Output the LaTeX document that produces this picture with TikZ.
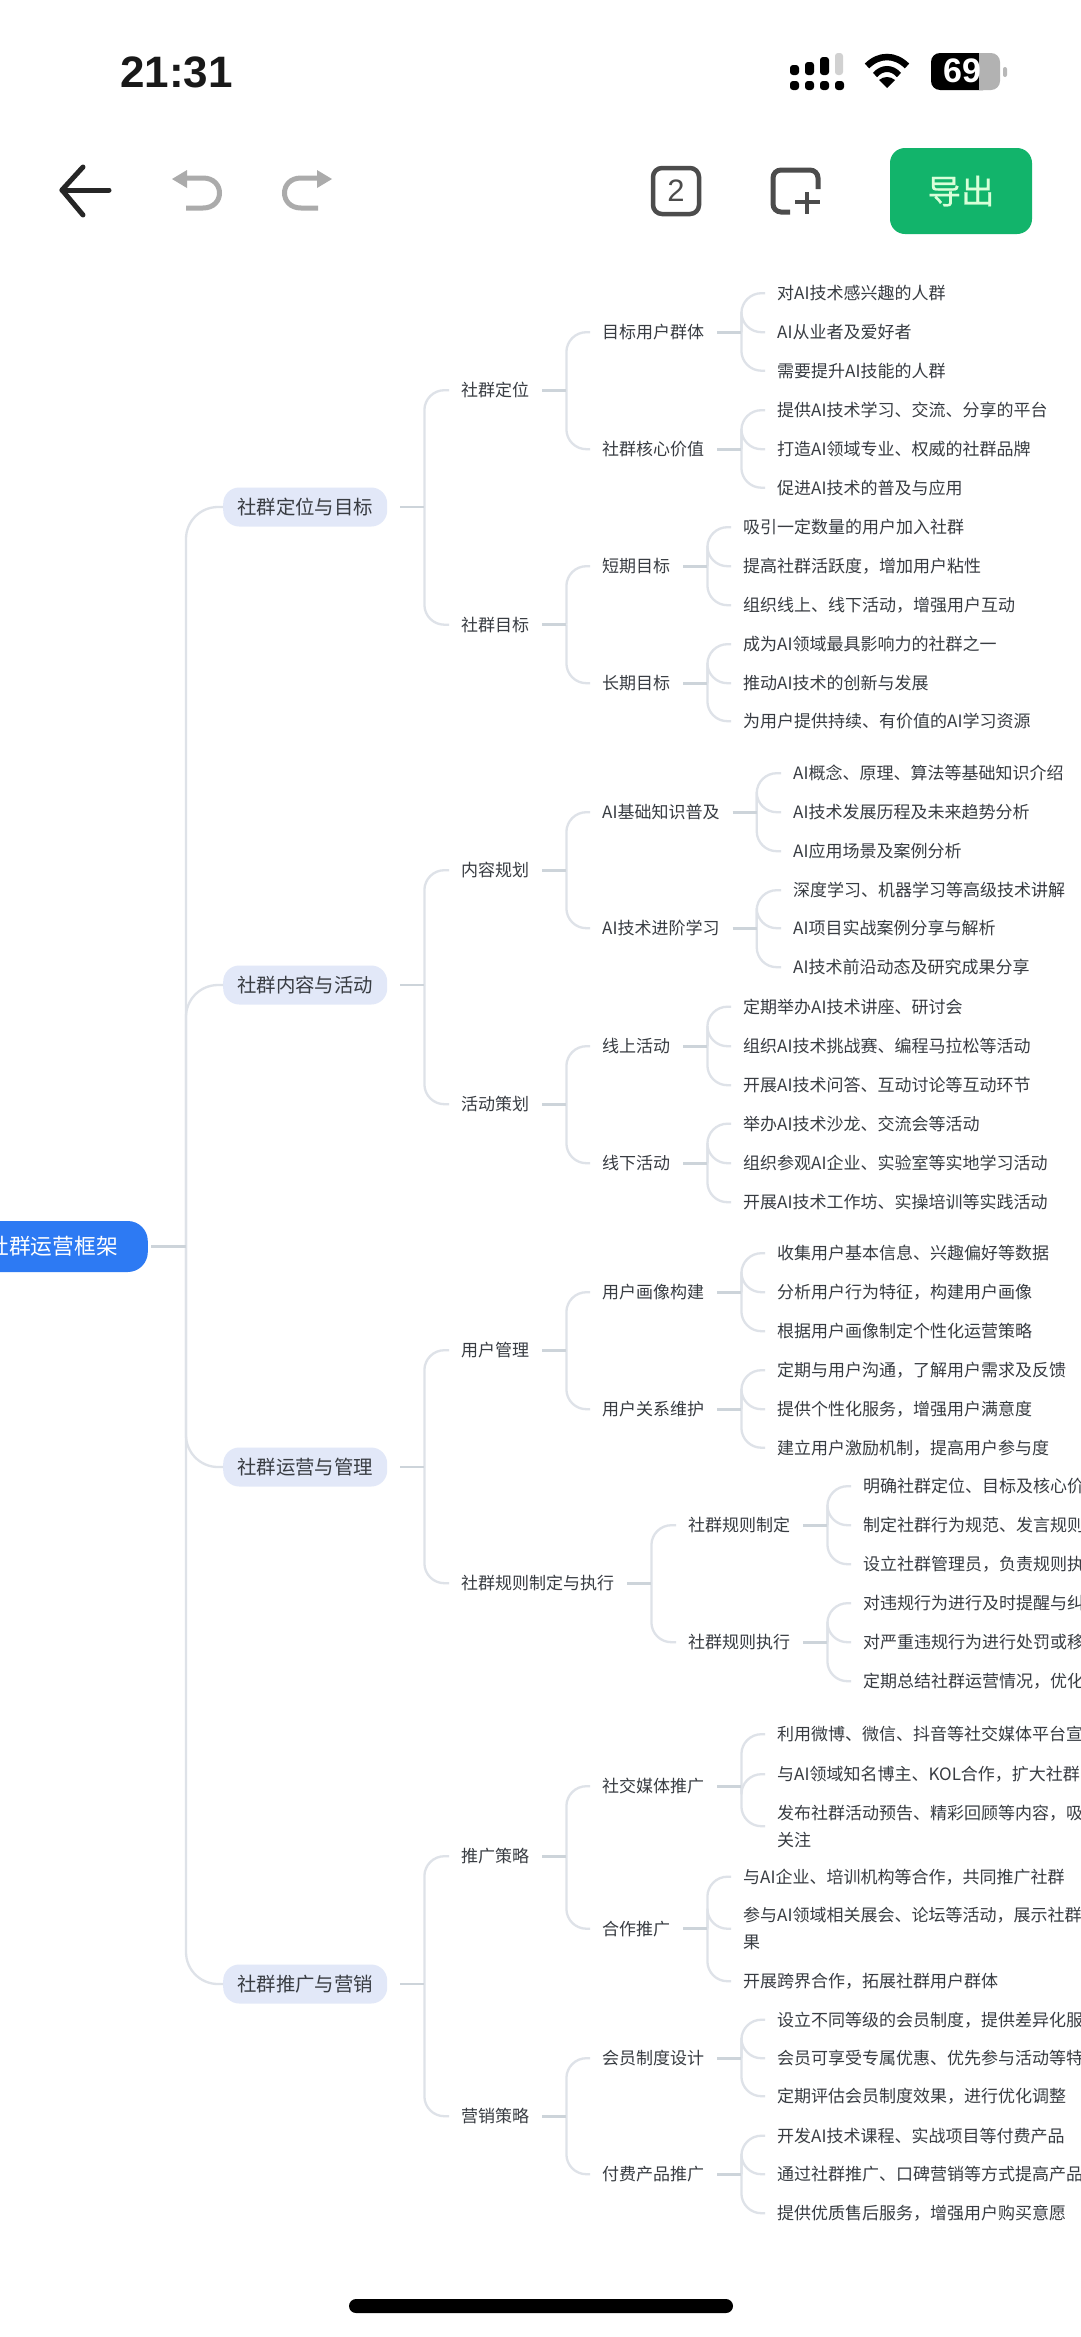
\documentclass[tikz,border=0pt]{standalone}
\usepackage{fontspec}
\setmainfont{Noto Sans CJK SC}
\newfontfamily\latinbold{Liberation Sans}
\newfontfamily\cjkheavy[FakeBold=0.5]{Noto Sans CJK SC}
\definecolor{linec}{HTML}{DEE2E8}
\definecolor{stubc}{HTML}{CDD4DA}
\definecolor{txt}{HTML}{383C42}
\definecolor{pill}{HTML}{E2E8F8}
\definecolor{rootc}{HTML}{2D7AF3}
\definecolor{greenb}{HTML}{12B46B}
\definecolor{icong}{HTML}{ABABAB}
\definecolor{icond}{HTML}{4C4C4C}
\tikzset{
 conn/.style={draw=linec,line width=2.3pt,rounded corners=20pt},
 stubl/.style={draw=stubc,line width=2.6pt},
 leaf/.style={anchor=west,inner sep=0pt,yshift=-1.2pt,text=txt,align=left,font=\fontsize{17}{26.8}\selectfont},
 lone/.style={anchor=west,fill=pill,rounded corners=16pt,minimum height=39pt,minimum width=164pt,inner sep=0pt,text=txt,font=\fontsize{19.4}{24}\selectfont},
 rootn/.style={anchor=east,fill=rootc,rounded corners=20pt,minimum height=51pt,inner xsep=30pt,inner ysep=0pt,text=white,font=\fontsize{21.7}{26}\selectfont},
 sigbar/.style={black,rounded corners=3pt},
}
\newcommand\fan[2]{%
 \foreach \k in {#2}{\draw[conn] ([xshift=37pt]#1.east) |- ([xshift=-12pt]\k.west);}
 \draw[stubl] ([xshift=13pt]#1.east) -- ([xshift=37pt]#1.east);}
\begin{document}
\begin{tikzpicture}[x=1pt,y=-1pt]
\useasboundingbox (0,0) rectangle (1080,2337);
\fill[white] (0,0) rectangle (1080,2337);
\begin{scope}
\clip (0,0) rectangle (1080,2337);
% status bar
\node[anchor=west,inner sep=0pt,font=\latinbold\bfseries\fontsize{44}{50}\selectfont,text=black!90] (clock) at (120,72) {21:31};
\foreach \cx/\top in {790/65,805/62,820/57}{\fill[sigbar] (\cx,\top) rectangle (\cx+9,75);}
\fill[black!18,rounded corners=3pt] (835,53) rectangle (843,75);
\foreach \cx in {790,805,820,835}{\fill[sigbar] (\cx,81) rectangle (\cx+9,90);}
\draw[black,line width=6.5pt] (867,66) .. controls (879,54) and (895,54) .. (907,66);
\draw[black,line width=6pt] (875,75) .. controls (882,67) and (892,67) .. (899,75);
\fill[black] (887,88) -- (879,80) .. controls (884,76) and (890,76) .. (895,80) -- cycle;
\fill[black,rounded corners=9pt] (931,53) rectangle (992,90);
\fill[black!30] (979,53) -- (991,53) arc (90:0:9pt) -- (1000,81) arc (0:-90:9pt) -- (979,90) -- cycle;
\fill[black!28,rounded corners=2pt] (1003,67) rectangle (1007,77);
\node[inner sep=0pt,text=white,font=\latinbold\bfseries\fontsize{34}{36}\selectfont] (batt) at (962,71) {69};
% toolbar
\draw[black!85,line width=5pt,line cap=round,line join=round] (83,167) -- (62,190) -- (83,215);
\draw[black!85,line width=5pt,line cap=round] (62,190) -- (109,190);
\draw[icong,line width=5pt] (184,178) -- (203,178) .. controls (225,178) and (225,208) .. (203,208) -- (186,208);
\fill[icong] (172,179) -- (187,170) -- (187,188) -- cycle;
\draw[icong,line width=5pt] (320,178) -- (301,178) .. controls (279,178) and (279,208) .. (301,208) -- (318,208);
\fill[icong] (332,179) -- (317,170) -- (317,188) -- cycle;
\draw[icond,line width=4.5pt,rounded corners=9pt] (653,168) rectangle (699,214);
\node[inner sep=0pt,text=icond,font=\latinbold\fontsize{31}{34}\selectfont] (two) at (676,191) {2};
\draw[icond,line width=5pt,rounded corners=8pt] (818,189) -- (818,170) -- (773,170) -- (773,212) -- (790,212);
\draw[icond,line width=4.5pt] (795,202) -- (820,202) (807,192) -- (807,214);
\fill[greenb,rounded corners=15pt] (890,148) rectangle (1032,234);
\node[inner sep=0pt,text=white!85!green,font=\cjkheavy\fontsize{33.5}{36}\selectfont] (export) at (961,191) {导出};
% root + L1
\node[rootn] (r) at (148,1246.5) {\raisebox{-0.7pt}{社群运营框架}};
\node[lone] (a1) at (223,507) {\raisebox{-0.7pt}{社群定位与目标}};
\node[lone] (a2) at (223,985) {\raisebox{-0.7pt}{社群内容与活动}};
\node[lone] (a3) at (223,1467) {\raisebox{-0.7pt}{社群运营与管理}};
\node[lone] (a4) at (223,1984) {\raisebox{-0.7pt}{社群推广与营销}};
\foreach \k in {a1,a2,a3,a4}{\draw[conn,rounded corners=32pt] ([xshift=38pt]r.east) |- (\k.west);}
\draw[stubl] ([xshift=3pt]r.east) -- ([xshift=38pt]r.east);
% L2
\node[leaf] (b1) at (461,389) {社群定位};
\node[leaf] (b2) at (461,623.5) {社群目标};
\node[leaf] (b3) at (461,869) {内容规划};
\node[leaf] (b4) at (461,1103) {活动策划};
\node[leaf] (b5) at (461,1349) {用户管理};
\node[leaf] (b6) at (461,1582) {社群规则制定与执行};
\node[leaf] (b7) at (461,1855) {推广策略};
\node[leaf] (b8) at (461,2115) {营销策略};
% L3
\node[leaf] (c1) at (602,331) {目标用户群体};
\node[leaf] (c2) at (602,448) {社群核心价值};
\node[leaf] (c3) at (602,565) {短期目标};
\node[leaf] (c4) at (602,682) {长期目标};
\node[leaf] (c5) at (602,811) {AI基础知识普及};
\node[leaf] (c6) at (602,927) {AI技术进阶学习};
\node[leaf] (c7) at (602,1045) {线上活动};
\node[leaf] (c8) at (602,1162) {线下活动};
\node[leaf] (c9) at (602,1291) {用户画像构建};
\node[leaf] (c10) at (602,1408) {用户关系维护};
\node[leaf] (c11) at (688,1524) {社群规则制定};
\node[leaf] (c12) at (688,1641) {社群规则执行};
\node[leaf] (c13) at (602,1785) {社交媒体推广};
\node[leaf] (c14) at (602,1927.5) {合作推广};
\node[leaf] (c15) at (602,2057) {会员制度设计};
\node[leaf] (c16) at (602,2173) {付费产品推广};
% leaves
\node[leaf] (d1) at (777,292) {对AI技术感兴趣的人群};
\node[leaf] (d2) at (777,331) {AI从业者及爱好者};
\node[leaf] (d3) at (777,369.5) {需要提升AI技能的人群};
\node[leaf] (d4) at (777,409) {提供AI技术学习、交流、分享的平台};
\node[leaf] (d5) at (777,448) {打造AI领域专业、权威的社群品牌};
\node[leaf] (d6) at (777,486.5) {促进AI技术的普及与应用};
\node[leaf] (d7) at (743,526) {吸引一定数量的用户加入社群};
\node[leaf] (d8) at (743,565) {提高社群活跃度，增加用户粘性};
\node[leaf] (d9) at (743,604) {组织线上、线下活动，增强用户互动};
\node[leaf] (d10) at (743,643) {成为AI领域最具影响力的社群之一};
\node[leaf] (d11) at (743,682) {推动AI技术的创新与发展};
\node[leaf] (d12) at (743,720) {为用户提供持续、有价值的AI学习资源};
\node[leaf] (d13) at (793,772) {AI概念、原理、算法等基础知识介绍};
\node[leaf] (d14) at (793,811) {AI技术发展历程及未来趋势分析};
\node[leaf] (d15) at (793,850) {AI应用场景及案例分析};
\node[leaf] (d16) at (793,889) {深度学习、机器学习等高级技术讲解};
\node[leaf] (d17) at (793,927) {AI项目实战案例分享与解析};
\node[leaf] (d18) at (793,966) {AI技术前沿动态及研究成果分享};
\node[leaf] (d19) at (743,1005.5) {定期举办AI技术讲座、研讨会};
\node[leaf] (d20) at (743,1045) {组织AI技术挑战赛、编程马拉松等活动};
\node[leaf] (d21) at (743,1084) {开展AI技术问答、互动讨论等互动环节};
\node[leaf] (d22) at (743,1122.5) {举办AI技术沙龙、交流会等活动};
\node[leaf] (d23) at (743,1162) {组织参观AI企业、实验室等实地学习活动};
\node[leaf] (d24) at (743,1201) {开展AI技术工作坊、实操培训等实践活动};
\node[leaf] (d25) at (777,1252) {收集用户基本信息、兴趣偏好等数据};
\node[leaf] (d26) at (777,1291) {分析用户行为特征，构建用户画像};
\node[leaf] (d27) at (777,1330) {根据用户画像制定个性化运营策略};
\node[leaf] (d28) at (777,1369) {定期与用户沟通，了解用户需求及反馈};
\node[leaf] (d29) at (777,1408) {提供个性化服务，增强用户满意度};
\node[leaf] (d30) at (777,1446.5) {建立用户激励机制，提高用户参与度};
\node[leaf] (d31) at (863,1485) {明确社群定位、目标及核心价};
\node[leaf] (d32) at (863,1524) {制定社群行为规范、发言规则};
\node[leaf] (d33) at (863,1563) {设立社群管理员，负责规则执};
\node[leaf] (d34) at (863,1602) {对违规行为进行及时提醒与纠};
\node[leaf] (d35) at (863,1641) {对严重违规行为进行处罚或移};
\node[leaf] (d36) at (863,1680) {定期总结社群运营情况，优化};
\node[leaf] (d37) at (777,1733) {利用微博、微信、抖音等社交媒体平台宣};
\node[leaf] (d38) at (777,1773) {与AI领域知名博主、KOL合作，扩大社群};
\node[leaf] (d39) at (777,1825) {发布社群活动预告、精彩回顾等内容，吸\\关注};
\node[leaf] (d40) at (743,1875.5) {与AI企业、培训机构等合作，共同推广社群};
\node[leaf] (d41) at (743,1927.5) {参与AI领域相关展会、论坛等活动，展示社群\\果};
\node[leaf] (d42) at (743,1980) {开展跨界合作，拓展社群用户群体};
\node[leaf] (d43) at (777,2018.5) {设立不同等级的会员制度，提供差异化服};
\node[leaf] (d44) at (777,2057) {会员可享受专属优惠、优先参与活动等特};
\node[leaf] (d45) at (777,2095) {定期评估会员制度效果，进行优化调整};
\node[leaf] (d46) at (777,2134.5) {开发AI技术课程、实战项目等付费产品};
\node[leaf] (d47) at (777,2173) {通过社群推广、口碑营销等方式提高产品};
\node[leaf] (d48) at (777,2212) {提供优质售后服务，增强用户购买意愿};
% connectors
\fan{a1}{b1,b2}\fan{a2}{b3,b4}\fan{a3}{b5,b6}\fan{a4}{b7,b8}
\fan{b1}{c1,c2}\fan{b2}{c3,c4}\fan{b3}{c5,c6}\fan{b4}{c7,c8}
\fan{b5}{c9,c10}\fan{b6}{c11,c12}\fan{b7}{c13,c14}\fan{b8}{c15,c16}
\fan{c1}{d1,d2,d3}\fan{c2}{d4,d5,d6}\fan{c3}{d7,d8,d9}\fan{c4}{d10,d11,d12}
\fan{c5}{d13,d14,d15}\fan{c6}{d16,d17,d18}\fan{c7}{d19,d20,d21}\fan{c8}{d22,d23,d24}
\fan{c9}{d25,d26,d27}\fan{c10}{d28,d29,d30}\fan{c11}{d31,d32,d33}\fan{c12}{d34,d35,d36}
\fan{c13}{d37,d38,d39}\fan{c14}{d40,d41,d42}\fan{c15}{d43,d44,d45}\fan{c16}{d46,d47,d48}
% home indicator
\fill[black,rounded corners=7pt] (349,2299) rectangle (733,2313);
\end{scope}
\end{tikzpicture}
\end{document}
